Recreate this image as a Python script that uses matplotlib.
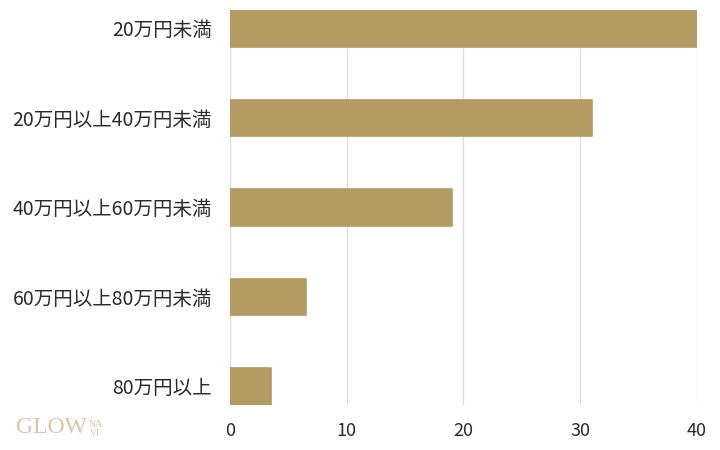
import matplotlib.pyplot as plt

plt.rcParams['font.family'] = ['Noto Sans CJK JP', 'DejaVu Sans']

categories = ['20万円未満', '20万円以上40万円未満', '40万円以上60万円未満',
              '60万円以上80万円未満', '80万円以上']
values = [40, 31, 19, 6.5, 3.5]
xticks = [0, 10, 20, 30, 40]

bar_color = '#B39B62'

fig = plt.figure(figsize=(7.2, 4.5), dpi=100)
ax = fig.add_axes([0.3194, 0.1, 0.6486, 0.878])

ypos = list(range(len(categories)))
ax.barh(ypos, values, height=0.41, color=bar_color, edgecolor=bar_color,
        linewidth=1.2, joinstyle='round', zorder=3)

ax.set_ylim(len(categories) - 1 + 0.207, -0.207)
ax.set_xlim(0, 40)
ax.set_yticks(ypos)
ax.set_yticklabels(categories, fontsize=14, color='#2b2b2b')
ax.set_xticks(xticks)
ax.set_xticklabels([str(t) for t in xticks], fontsize=13, color='#2b2b2b')
ax.tick_params(length=0)
ax.tick_params(axis='y', pad=13)
ax.tick_params(axis='x', pad=12)
ax.grid(axis='x', color='#DDDDDD', linewidth=1, zorder=0)
for s in ax.spines.values():
    s.set_visible(False)

# watermark logo
logo = '#DCC3AC'
fig.text(0.022, 0.027, 'GLOW', fontsize=17, family='Liberation Serif',
         color=logo, ha='left', va='bottom')
fig.text(0.123, 0.046, 'NA', fontsize=7, family='Liberation Serif',
         color=logo, ha='left', va='bottom')
fig.text(0.125, 0.027, 'VI', fontsize=7, family='Liberation Serif',
         color=logo, ha='left', va='bottom')

fig.savefig('out.png', dpi=100, facecolor='white')
